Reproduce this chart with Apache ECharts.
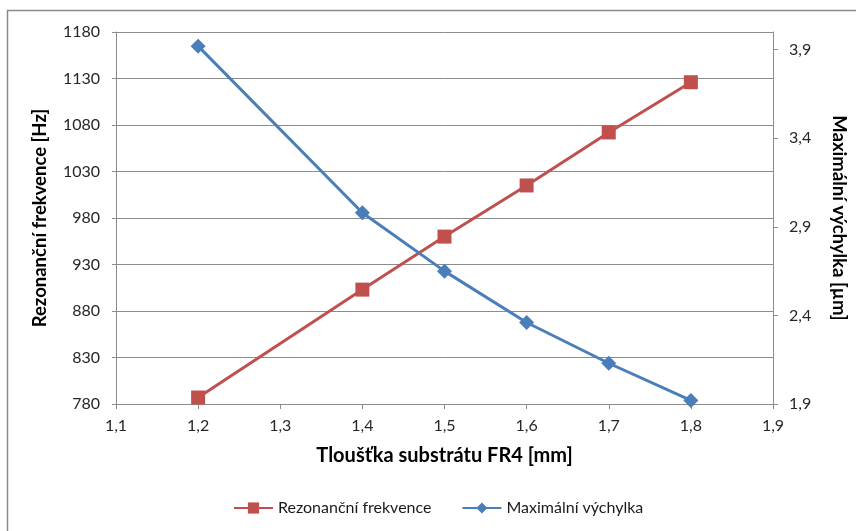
<!DOCTYPE html>
<html>
<head>
<meta charset="utf-8">
<script src="https://cdn.jsdelivr.net/npm/echarts@6/dist/echarts.min.js"></script>
<style>
  html, body { margin: 0; padding: 0; background: #fff; }
  #chart { width: 856px; height: 531px; }
</style>
</head>
<body>
<div id="chart"></div>
<script>
// Substrate thickness FR4 [mm]
const thickness = [1.2, 1.4, 1.5, 1.6, 1.7, 1.8];
// Resonant frequency [Hz]
const frequency = [787, 903, 960, 1015, 1072, 1126];
// Maximum deflection [µm]
const deflection = [3.92, 2.98, 2.65, 2.36, 2.13, 1.92];
// Labelled values on the secondary (deflection) axis
const deflectionTicks = [1.9, 2.4, 2.9, 3.4, 3.9];

const seriesNames = ['Rezonanční frekvence', 'Maximální výchylka'];
const axisTitles = {
  x: 'Tloušťka substrátu FR4 [mm]',
  left: 'Rezonanční frekvence [Hz]',
  right: 'Maximální výchylka [µm]'
};

const FONT = 'Lato';
const comma1 = v => v.toFixed(1).replace('.', ',');
const pairs = ys => thickness.map((x, i) => [x, ys[i]]);

const gridColor = '#8c8c8c';
const labelStyle = { color: '#262626', fontFamily: FONT, fontSize: 16 };
const titleStyle = { color: '#000', fontFamily: FONT, fontSize: 18.5, fontWeight: 'bold' };

const chart = echarts.init(document.getElementById('chart'), null, { renderer: 'canvas' });
chart.setOption({
  animation: false,
  backgroundColor: '#fff',
  graphic: [{
    type: 'rect',
    shape: { x: 7.5, y: 10.5, width: 900, height: 600 },
    style: { fill: 'none', stroke: '#8a8a8a', lineWidth: 1.5 },
    silent: true
  }],
  grid: { left: 116, right: 81, top: 32, bottom: 127 },
  legend: {
    left: 233,
    top: 500,
    padding: 0,
    itemWidth: 39,
    itemHeight: 14,
    itemGap: 30,
    textStyle: { color: '#1a1a1a', fontFamily: FONT, fontSize: 16 },
    data: seriesNames
  },
  xAxis: {
    type: 'value',
    min: 1.1, max: 1.9, interval: 0.1,
    name: axisTitles.x,
    nameLocation: 'middle',
    nameGap: 42,
    nameTextStyle: Object.assign({}, titleStyle, { fontSize: 20 }),
    axisLine: { show: true, lineStyle: { color: gridColor, width: 1 } },
    axisTick: { show: true, inside: false, length: 5, lineStyle: { color: gridColor } },
    axisLabel: Object.assign({ formatter: comma1, margin: 14 }, labelStyle),
    splitLine: { show: false }
  },
  yAxis: [{
    type: 'value',
    position: 'left',
    min: 780, max: 1180, interval: 50,
    name: axisTitles.left,
    nameLocation: 'middle',
    nameGap: 66,
    nameTextStyle: titleStyle,
    axisLine: { show: true, lineStyle: { color: gridColor, width: 1 } },
    axisTick: { show: true, inside: false, length: 4, lineStyle: { color: gridColor } },
    axisLabel: Object.assign({ formatter: v => String(v), margin: 16 }, labelStyle),
    splitLine: { show: true, lineStyle: { color: gridColor, width: 1 } }
  }, {
    type: 'value',
    position: 'right',
    min: 1.9, max: 4.0,
    name: axisTitles.right,
    nameLocation: 'middle',
    nameGap: 56,
    nameRotate: -90,
    nameTextStyle: titleStyle,
    axisLine: { show: true, lineStyle: { color: gridColor, width: 1 } },
    axisTick: { show: true, inside: false, length: 5, customValues: deflectionTicks, lineStyle: { color: gridColor } },
    axisLabel: Object.assign({ formatter: comma1, margin: 16, customValues: deflectionTicks }, labelStyle),
    splitLine: { show: false }
  }],
  series: [{
    name: seriesNames[0],
    type: 'line',
    yAxisIndex: 0,
    data: pairs(frequency),
    symbol: 'rect',
    symbolSize: 14,
    lineStyle: { color: '#C0504D', width: 3 },
    itemStyle: { color: '#C0504D' },
    z: 3
  }, {
    name: seriesNames[1],
    type: 'line',
    yAxisIndex: 1,
    data: pairs(deflection),
    symbol: 'diamond',
    symbolSize: 15,
    lineStyle: { color: '#4A7EBB', width: 3 },
    itemStyle: { color: '#4A7EBB' },
    z: 4
  }]
});
</script>
</body>
</html>
